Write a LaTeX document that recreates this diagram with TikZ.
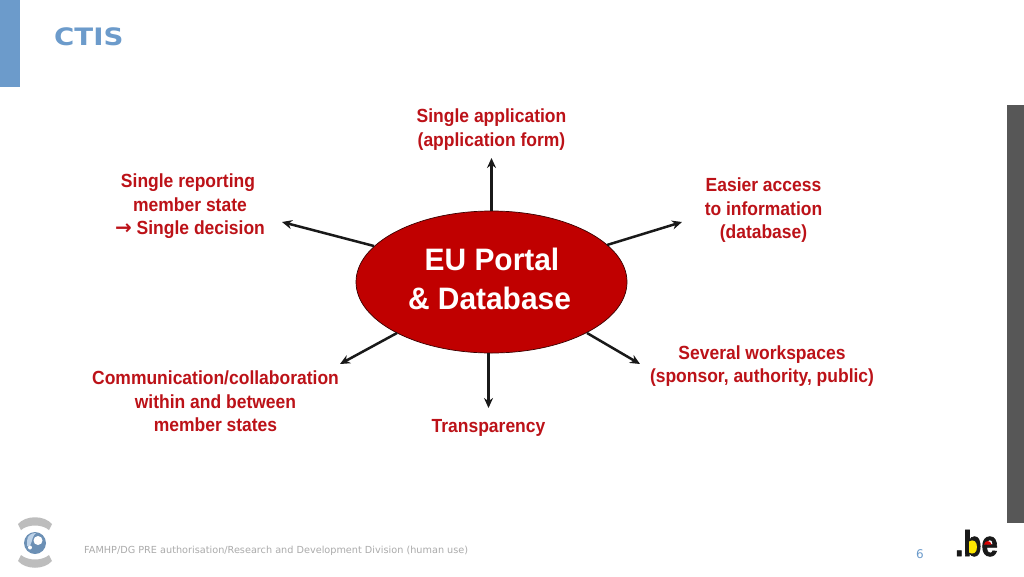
\documentclass[tikz,border=0pt]{standalone}
\usepackage{fontspec}
\setmainfont{Liberation Sans}
\newfontfamily\labfont[FakeStretch=0.92]{Liberation Sans}
\newfontfamily\hubfont[FakeStretch=0.965]{Liberation Sans}
\newfontfamily\titlefont[FakeStretch=1.15]{DejaVu Sans}
\newfontfamily\logofont[FakeStretch=0.82,FakeBold=1.6]{Liberation Sans}
\newfontfamily\dejavu{DejaVu Sans}
\usetikzlibrary{shapes.geometric,arrows.meta}
\definecolor{slideblue}{HTML}{6C9BCB}
\definecolor{portalred}{HTML}{C00000}
\definecolor{labelred}{HTML}{BC1218}
\definecolor{footgrey}{HTML}{ABABAB}
\definecolor{arcgrey}{HTML}{BDBDBD}
\tikzset{
  x=1pt,y=-1pt,
  lab/.style={text=labelred,font=\labfont\fontsize{19}{23.5}\selectfont\bfseries,align=center,inner sep=0pt},
  spoke/.style={draw=black!90,line width=2.5pt,-{Stealth[length=10pt,width=9pt]}},
  portal/.style={ellipse,draw=black!70!portalred,line width=.7pt,fill=portalred,minimum width=271pt,minimum height=142pt,inner sep=0pt,align=center,text=white,font=\hubfont\fontsize{31}{39}\selectfont\bfseries},
}
\begin{document}
\begin{tikzpicture}
\useasboundingbox (0,0) rectangle (1024,576);
\fill[white] (0,0) rectangle (1024,576);
\fill[slideblue] (0,0) rectangle (20,87);
\node[anchor=west,inner sep=0pt,text=slideblue,font=\titlefont\fontsize{24}{28}\selectfont\bfseries] (title) at (54,37) {CTIS};
\fill[black!66] (1007,105) rectangle (1024,523);

\node[portal] (hub) at (491.5,282) {\raisebox{3pt}{\begin{tabular}{@{}c@{}}\hspace*{5pt}EU Portal\\\& Database\end{tabular}}\hspace*{4pt}};

\node[lab] (top) at (491.5,129.5) {Single application\\(application form)};
\node[lab] (left) at (190,206.5) {\hspace*{-4pt}Single reporting\\member state\\{\dejavu\fontsize{20}{20}\selectfont →} Single decision};
\node[lab] (right) at (763.5,210.5) {Easier access\\to information\\(database)};
\node[lab] (lowleft) at (215.5,401.5) {Communication/collaboration\\within and between\\member states};
\node[lab] (lowright) at (762,366) {Several workspaces\\(sponsor, authority, public)};
\node[lab] (bottom) at (488.5,428) {Transparency};

\coordinate (etop) at (491.5,158);
\coordinate (eleft) at (282,222);
\coordinate (eright) at (682,222);
\coordinate (elowleft) at (340,364);
\coordinate (elowright) at (640,364);
\coordinate (ebottom) at (488.5,408);
\coordinate (stop) at (491.5,211);
\coordinate (sleft) at (374,246);
\coordinate (sright) at (607,245);
\coordinate (slowleft) at (397,333);
\coordinate (slowright) at (587,333);
\coordinate (sbottom) at (488.5,353);
\draw[spoke] (stop) -- (etop);
\draw[spoke] (sleft) -- (eleft);
\draw[spoke] (sright) -- (eright);
\draw[spoke] (slowleft) -- (elowleft);
\draw[spoke] (slowright) -- (elowright);
\draw[spoke] (sbottom) -- (ebottom);

% footer logo
\fill[arcgrey] (18,524) .. controls (26,515) and (44,515) .. (52,524) -- (49,530) .. controls (42,524) and (28,524) .. (21,530) -- cycle;
\fill[arcgrey] (18,561) .. controls (26,570) and (44,570) .. (52,561) -- (49,555) .. controls (42,561) and (28,561) .. (21,555) -- cycle;
\fill[slideblue!85!black!90] (35,543) circle (11);
\fill[slideblue!45] (27,541) .. controls (27,535) and (32,533) .. (36,533) .. controls (30,538) and (33,548) .. (27,546) -- cycle;
\fill[white] (38,540.5) circle (4.5);
\fill[white] (30,547.5) circle (2);
\node[anchor=west,inner sep=0pt,text=footgrey,font=\dejavu\fontsize{9.7}{12}\selectfont] (foot) at (84,551) {FAMHP/DG PRE authorisation/Research and Development Division (human use)};
\node[inner sep=0pt,text=slideblue,font=\dejavu\fontsize{12}{14}\selectfont] (page) at (920,554) {6};
% .be
\node[anchor=base west,inner sep=0pt,text=black!90,font=\logofont\fontsize{36}{40}\selectfont\bfseries] (be) at (955,556) {.be};
\fill[yellow!90!orange] (969,541.5) .. controls (973,539) and (977,541) .. (977,547) .. controls (977,553) and (973,555) .. (969,552.5) -- cycle;
\fill[red!85!black] (984,544.5) .. controls (984.5,540) and (991,540) .. (991.5,544.5) -- cycle;
\end{tikzpicture}
\end{document}
